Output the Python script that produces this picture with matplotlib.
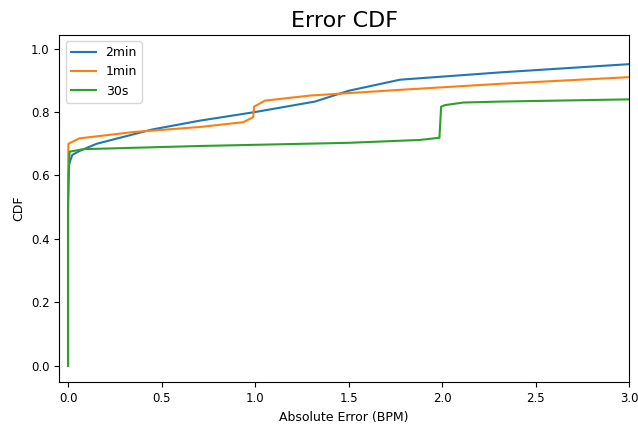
import numpy as np
import matplotlib.pyplot as plt

# error CDF curves, (abs error, cumulative fraction)
x_2min = [0.0, 0.0, 0.005, 0.023, 0.064, 0.153, 0.45, 0.706, 1.00, 1.32, 1.50, 1.775, 2.31, 3.0]
y_2min = [0.0, 0.60, 0.635, 0.665, 0.678, 0.70, 0.745, 0.773, 0.80, 0.833, 0.867, 0.902, 0.925, 0.951]

x_1min = [0.0, 0.0, 0.002, 0.06, 0.35, 0.706, 0.937, 0.99, 0.995, 1.053, 1.294, 1.775, 2.31, 3.0]
y_1min = [0.0, 0.50, 0.70, 0.717, 0.737, 0.753, 0.768, 0.784, 0.817, 0.836, 0.852, 0.870, 0.889, 0.91]

x_30s = [0.0, 0.0, 0.008, 0.082, 0.706, 1.5, 1.88, 1.986, 1.995, 2.016, 2.114, 2.31, 3.0]
y_30s = [0.0, 0.50, 0.675, 0.683, 0.693, 0.703, 0.712, 0.719, 0.817, 0.822, 0.830, 0.833, 0.840]

fig = plt.figure(figsize=(6.38, 4.26), dpi=100)
ax = fig.add_axes([0.093, 0.1026, 0.893, 0.8153])

ax.plot(x_2min, y_2min, label='2min')
ax.plot(x_1min, y_1min, label='1min')
ax.plot(x_30s, y_30s, label='30s')

ax.set_xlim(-0.0465, 3.0)
ax.set_ylim(-0.052, 1.043)
ax.set_title('Error CDF', fontsize=16)
ax.set_xlabel('Absolute Error (BPM)', fontsize=9)
ax.set_ylabel('CDF', fontsize=9)
ax.tick_params(labelsize=8.5)
ax.legend(loc='upper left', fontsize=9)

fig.savefig('out.png', dpi=100)
